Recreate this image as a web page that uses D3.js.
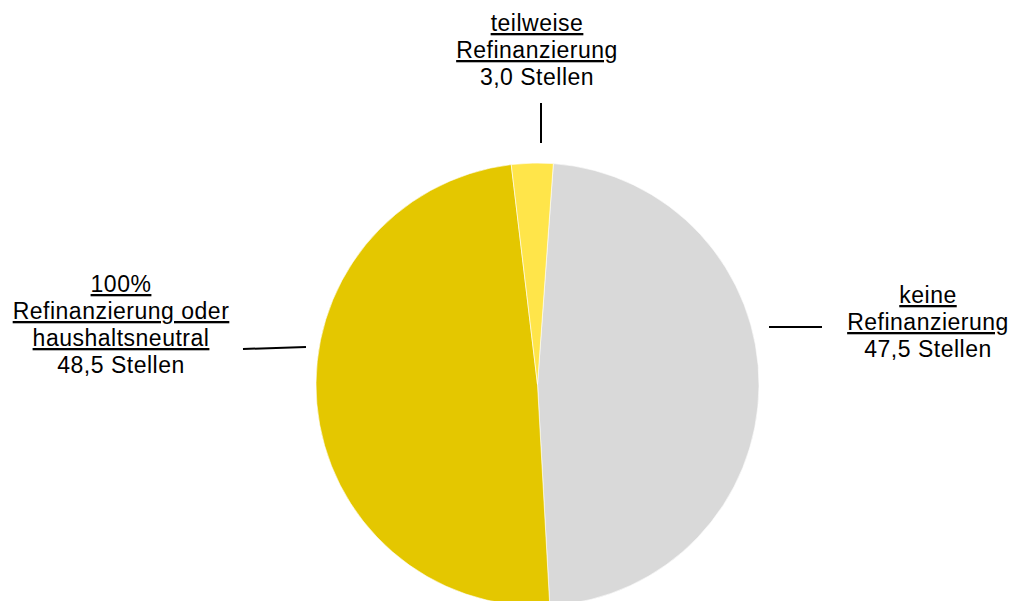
<!DOCTYPE html>
<html lang="de">
<head>
<meta charset="utf-8">
<title>Refinanzierung Stellen</title>
<script src="https://cdn.jsdelivr.net/npm/d3@7"></script>
<style>
body{
  margin: 0;
  background: #fff;
}
#chart text{
  font-family: "Liberation Sans", Arial, sans-serif;
  font-size: 23px;
  letter-spacing: 0.5px;
  fill: #000;
  text-anchor: middle;
}
#chart .name{
  text-decoration: underline;
}
</style>
</head>
<body>
<div id="chart"></div>
<script>
// data
var categories = ["keine Refinanzierung", "100% Refinanzierung oder haushaltsneutral", "teilweise Refinanzierung"];
var values = [47.5, 48.5, 3.0];
var nameLines = [["keine", "Refinanzierung"], ["100%", "Refinanzierung oder", "haushaltsneutral"], ["teilweise", "Refinanzierung"]];
var colors = ["#d9d9d9", "#e4c700", "#ffe54a"];

var width = 1009, height = 601;
var cx = 537.5, cy = 384.5, radius = 221.5;

// label layout: center x, first baseline y, leader line [x1,y1,x2,y2] in page coords
var labelPos = [
  {x: 928, y: 303, line: [769, 327, 822, 327]},
  {x: 121, y: 292, line: [243, 349, 306, 347]},
  {x: 537, y: 31, line: [541, 103, 541, 143]}
];

var svg = d3.select("#chart").append("svg")
  .attr("width", width)
  .attr("height", height);

var start = 4.1 * Math.PI / 180; // first slice starts a bit right of 12 o'clock
var pie = d3.pie().sort(null).startAngle(start).endAngle(start + 2 * Math.PI);
var arc = d3.arc().innerRadius(0).outerRadius(radius);

var data = categories.map(function(c, i) { return {name: c, value: values[i], i: i}; });

var g = svg.append("g").attr("transform", "translate(" + cx + "," + cy + ")");

g.selectAll("path")
  .data(pie.value(function(d) { return d.value; })(data))
  .enter()
  .append("path")
  .attr("d", arc)
  .attr("fill", function(d) { return colors[d.data.i]; })
  .attr("stroke", "#fff")
  .attr("stroke-width", 0.6);

// labels
data.forEach(function(d, i) {
  var p = labelPos[i];
  var t = svg.append("text").attr("x", p.x).attr("y", p.y);
  var lines = nameLines[i];
  lines.forEach(function(l, k) {
    t.append("tspan")
      .attr("class", "name")
      .attr("x", p.x)
      .attr("y", p.y + k * 27)
      .text(l);
  });
  t.append("tspan")
    .attr("x", p.x)
    .attr("y", p.y + lines.length * 27)
    .text(d3.format(".1f")(d.value).replace(".", ",") + " Stellen");

  svg.append("line")
    .attr("x1", p.line[0]).attr("y1", p.line[1])
    .attr("x2", p.line[2]).attr("y2", p.line[3])
    .attr("stroke", "#000")
    .attr("stroke-width", 2);
});
</script>
</body>
</html>
